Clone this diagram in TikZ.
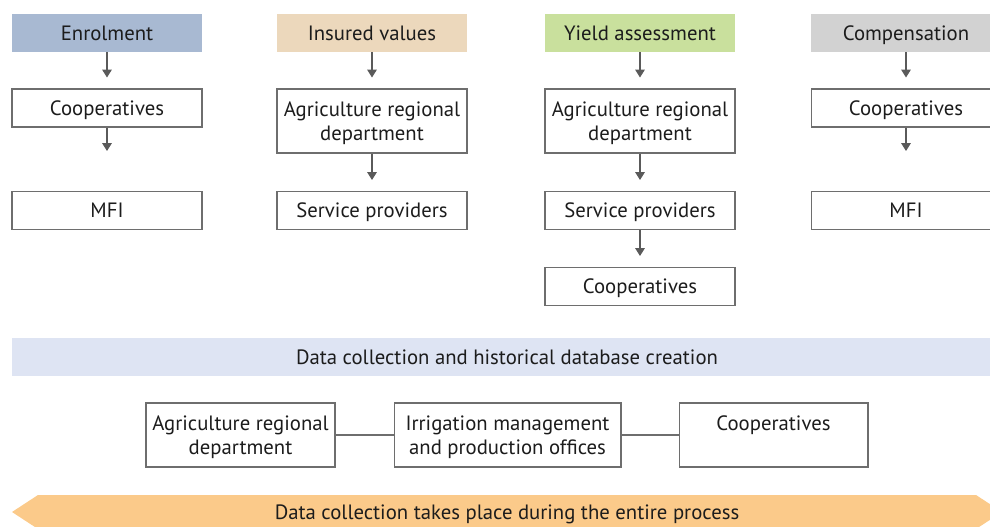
\documentclass[tikz,border=0pt]{standalone}
\usepackage{fontspec}
\setmainfont{PT Sans}
\usetikzlibrary{arrows.meta}

\definecolor{enrolfill}{HTML}{A8B9D2}
\definecolor{insurefill}{HTML}{ECD8BC}
\definecolor{yieldfill}{HTML}{C9E09D}
\definecolor{compfill}{HTML}{D2D2D2}
\definecolor{datafill}{HTML}{DEE4F3}
\definecolor{notefill}{HTML}{FBCA8A}
\definecolor{boxline}{HTML}{6E6E6E}
\definecolor{arrowgray}{HTML}{5A5A5A}
\definecolor{txt}{HTML}{1C1C1C}

\tikzset{
  stage/.style={minimum width=3.8cm,minimum height=0.76cm,inner sep=0pt,text=txt,
                text height=0.95em,text depth=0.1em},
  actor/.style={draw=boxline,line width=0.6pt,minimum width=3.8cm,minimum height=0.76cm,
                inner sep=0pt,text=txt,text height=0.95em,text depth=0.1em},
  tallactor/.style={draw=boxline,line width=0.6pt,minimum width=3.8cm,minimum height=1.28cm,
                inner sep=0pt,align=center,text=txt,text depth=0pt},
  flow/.style={draw=arrowgray,line width=0.6pt,-{Triangle[width=5.5pt,length=4.5pt]},shorten >=0.22cm},
  longflow/.style={flow,shorten >=0.8cm},
  link/.style={draw=boxline,line width=0.6pt}
}

\begin{document}
\begin{tikzpicture}[x=0.02cm,y=-0.02cm,font=\fontsize{11.8}{13.6}\selectfont]
            \clip (0,0) rectangle (990,527);
            \useasboundingbox (0,0) rectangle (990,527);

            % stage headers
            \node[stage,fill=enrolfill]  (enrol) at (107,33){Enrolment};
            \node[stage,fill=insurefill] (insure) at (372,33){Insured values};
            \node[stage,fill=yieldfill]  (yield) at (640,33){Yield assessment};
            \node[stage,fill=compfill]   (comp) at (906,33){Compensation};

            % enrolment
            \node[actor] (enrolcoop) at (107,108){Cooperatives};
            \node[actor] (enrolmfi) at (107,210.5){MFI};

            % insured values
            \node[tallactor] (insureagri) at (372,121){Agriculture regional\\department};
            \node[actor] (insureserv) at (372,210.5){Service providers};

            % yield assessment
            \node[tallactor] (yieldagri) at (640,121){Agriculture regional\\department};
            \node[actor] (yieldserv) at (640,210.5){Service providers};
            \node[actor] (yieldcoop) at (640,286.5){Cooperatives};

            % compensation
            \node[actor] (compcoop) at (906,108){Cooperatives};
            \node[actor] (compmfi) at (906,210.5){MFI};

            \draw[flow] (enrol) -- (enrolcoop);
            \draw[longflow] (enrolcoop) -- (enrolmfi);
            \draw[flow] (insure) -- (insureagri);
            \draw[flow] (insureagri) -- (insureserv);
            \draw[flow] (yield) -- (yieldagri);
            \draw[flow] (yieldagri) -- (yieldserv);
            \draw[flow] (yieldserv) -- (yieldcoop);
            \draw[flow] (comp) -- (compcoop);
            \draw[longflow] (compcoop) -- (compmfi);

            % data collection
            \node[stage,fill=datafill,minimum width=19.8cm] (data) at (507,357)
                {Data collection and historical database creation};
            \node[tallactor,minimum width=3.78cm] (dataagri) at (240.5,435){Agriculture regional\\department};
            \node[tallactor,minimum width=4.54cm] (dataoffice) at (507.5,435){Irrigation management\\and production offices};
            \node[tallactor,minimum width=3.78cm] (datacoop) at (773.5,435){Cooperatives\\\mbox{}};
            \draw[link] (dataagri) -- (dataoffice);
            \draw[link] (dataoffice) -- (datacoop);

            % process arrow
            \fill[notefill] (38,495) -- (976,495) -- (1002,512) -- (976,529)
                -- (38,529) -- (12,512) -- cycle;
            \node[text=txt,text height=0.95em,text depth=0.1em] (note) at (507,512)
                {Data collection takes place during the entire process};
          \end{tikzpicture}
\end{document}
